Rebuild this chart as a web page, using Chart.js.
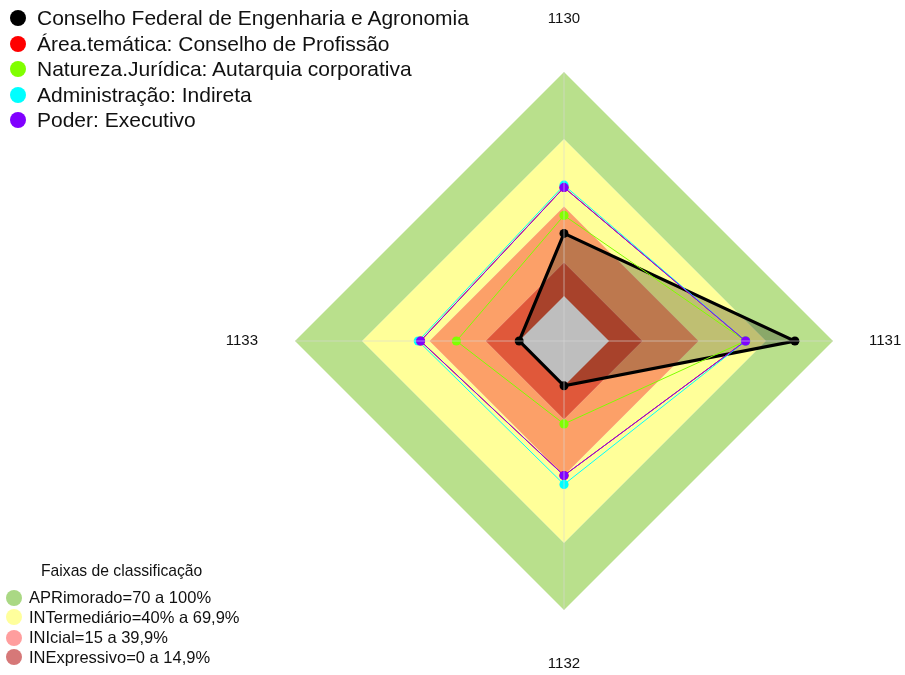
<!DOCTYPE html>
<html><head><meta charset="utf-8">
<script src="https://cdn.jsdelivr.net/npm/chart.js@4.4.1/dist/chart.umd.min.js"></script>
<style>
html,body{margin:0;padding:0;background:#fff;}
#wrap{position:relative;width:905px;height:675px;overflow:hidden;font-family:"Liberation Sans",Arial,sans-serif;}
canvas{position:absolute;left:0;top:0;}
.row{position:absolute;white-space:nowrap;display:flex;align-items:center;color:#111;}
.dot{display:inline-block;border-radius:50%;flex:none;}
</style></head><body>
<div id="wrap"><canvas id="c" width="905" height="675"></canvas><div id="leg1"></div><div id="leg2"></div></div>
<script>
// ---- data ----
const axisLabels = ['1130', '1131', '1132', '1133'];
const seriesNames = [
  'Conselho Federal de Engenharia e Agronomia',
  'Área.temática: Conselho de Profissão',
  'Natureza.Jurídica: Autarquia corporativa',
  'Administração: Indireta',
  'Poder: Executivo'
];
const seriesColors = ['#000000', '#ff0000', '#80ff00', '#00ffff', '#8000ff'];
const cfea = [0.28, 0.83, 0.00, 0.00];
const areaTematica = [0.485, 0.61, 0.40, 0.44];
const naturezaJuridica = [0.36, 0.61, 0.17, 0.28];
const administracao = [0.495, 0.61, 0.44, 0.45];
const poder = [0.485, 0.61, 0.40, 0.44];

const bandTitle = 'Faixas de classificação';
const bandNames = ['APRimorado=70 a 100%', 'INTermediário=40% a 69,9%', 'INIcial=15 a 39,9%', 'INExpressivo=0 a 14,9%'];
const bandUpper = [1.0, 0.7, 0.4, 0.15];
const bandLower = [0.7, 0.4, 0.15, 0.0];
const bandColors = ['#b9e08c', '#ffff99', '#fca068', '#e0583a'];
const bandLegendColors = ['#aad884', '#ffff9c', '#ff9e9e', '#d67878'];
const centerValue = [0, 0, 0, 0];
const scaleMin = -0.2, scaleMax = 1.0;

// ---- datasets ----
const datasets = [];
bandUpper.forEach((u, i) => {
  datasets.push({
    label: bandNames[i], data: axisLabels.map(() => u),
    fill: {value: bandLower[i]}, backgroundColor: bandColors[i],
    borderWidth: 0, pointRadius: 0, order: 10 - i
  });
});
const seriesData = [cfea, areaTematica, naturezaJuridica, administracao, poder];
datasets.push({
  label: seriesNames[0], data: cfea, fill: 'start',
  backgroundColor: 'rgba(0,0,0,0.25)', borderColor: '#000', borderWidth: 3.2,
  pointRadius: 4.5, pointBackgroundColor: '#000', pointBorderWidth: 0, order: 6
});
datasets.push({
  label: 'centro', data: centerValue, fill: 'start', backgroundColor: '#bebebe',
  borderWidth: 0, pointRadius: 0, order: 5
});
const thinOrder = {2: 4, 1: 3, 3: 2, 4: 1};
[2, 1, 3, 4].forEach(k => {
  datasets.push({
    label: seriesNames[k], data: seriesData[k], fill: false,
    borderColor: seriesColors[k], borderWidth: 1, backgroundColor: seriesColors[k],
    pointRadius: 4.6, pointBackgroundColor: seriesColors[k], pointBorderWidth: 0, order: thinOrder[k]
  });
});

const labelPad = [44, 36, 45, 37];

new Chart(document.getElementById('c'), {
  type: 'radar',
  data: {labels: axisLabels, datasets},
  options: {
    responsive: false, animation: false, events: [],
    layout: {padding: {left: 222, right: 0, top: 10, bottom: 1}},
    plugins: {
      legend: {display: false}, tooltip: {enabled: false},
      filler: {drawTime: 'beforeDatasetsDraw', propagate: false}
    },
    elements: {line: {tension: 0}},
    scales: {
      r: {
        min: scaleMin, max: scaleMax, beginAtZero: false,
        ticks: {display: false},
        grid: {display: false, z: 1},
        angleLines: {display: true, color: 'rgba(215,215,215,0.6)', lineWidth: 1},
        pointLabels: {
          font: {family: 'Liberation Sans', size: 15}, color: '#111',
          padding: (ctx) => labelPad[ctx.index]
        }
      }
    }
  }
});

// ---- HTML legends ----
const leg1 = document.getElementById('leg1');
const leg1Y = [18, 43.5, 69, 94.5, 120];
seriesNames.forEach((name, i) => {
  const r = document.createElement('div');
  r.className = 'row';
  r.style.left = '10px'; r.style.top = (leg1Y[i] - 12) + 'px';
  r.style.height = '24px'; r.style.fontSize = '21px';
  r.innerHTML = '<span class="dot" style="width:16px;height:16px;background:' + seriesColors[i] + ';margin-right:11px"></span><span></span>';
  r.lastChild.textContent = name;
  leg1.appendChild(r);
});
const leg2 = document.getElementById('leg2');
const t = document.createElement('div');
t.className = 'row';
t.style.left = '41px'; t.style.top = '561px'; t.style.height = '20px'; t.style.fontSize = '15.7px';
t.textContent = bandTitle;
leg2.appendChild(t);
const leg2Y = [597.5, 617, 637.5, 657];
bandNames.forEach((name, i) => {
  const r = document.createElement('div');
  r.className = 'row';
  r.style.left = '6px'; r.style.top = (leg2Y[i] - 10) + 'px';
  r.style.height = '20px'; r.style.fontSize = '16.5px';
  r.innerHTML = '<span class="dot" style="width:16px;height:16px;background:' + bandLegendColors[i] + ';margin-right:7px"></span><span></span>';
  r.lastChild.textContent = name;
  leg2.appendChild(r);
});
</script>
</body></html>
